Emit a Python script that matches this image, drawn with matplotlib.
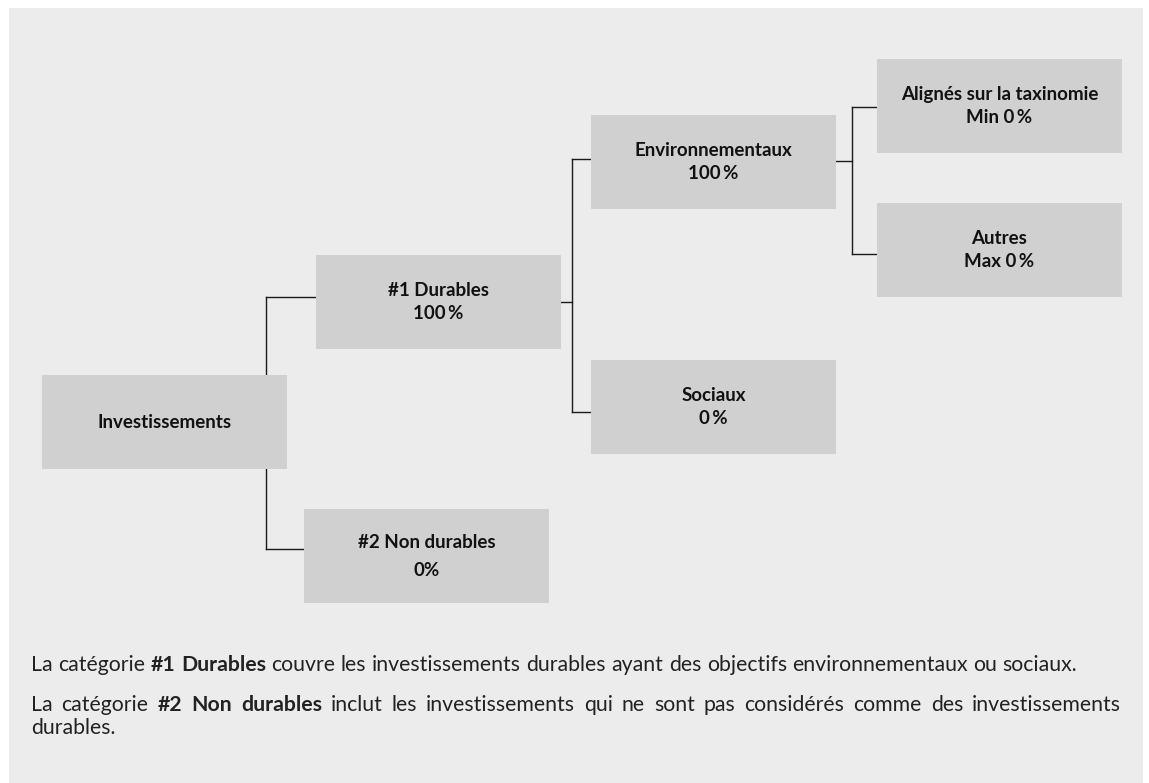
import matplotlib
matplotlib.use("Agg")
import matplotlib.pyplot as plt
from matplotlib.patches import Rectangle

# ---- data: the allocation tree ----
node_names = ["Investissements", "#1 Durables", "#2 Non durables",
              "Environnementaux", "Sociaux",
              "Alignés sur la taxinomie", "Autres"]
node_prefix = ["", "", "", "", "", "Min ", "Max "]
node_share = [None, 100, 0, 100, 0, 0, 0]
node_parent = [None, 0, 0, 1, 1, 3, 3]

footer_lines = [
    [("La catégorie ", "normal"), ("#1 Durables", "bold"),
     (" couvre les investissements durables ayant des objectifs environnementaux ou sociaux.", "normal")],
    [("La catégorie ", "normal"), ("#2 Non durables", "bold"),
     (" inclut les investissements qui ne sont pas considérés comme des investissements", "normal")],
    [("durables.", "normal")],
]

# ---- layout (pixel coordinates, origin top-left) ----
W, H = 1149, 783
BOX_W, BOX_H = 245, 94
box_xy = [(42, 375), (316, 255), (304, 509), (591, 115), (591, 360), (877, 59), (877, 203)]
link_y = [None, 297, 549, 159, 412, 107, 254]     # where each child's connector hits
trunk_x = {0: 266, 1: 572, 3: 852}                 # vertical trunk per parent
stub_y = {1: 302, 3: 161}                          # stub leaving parent box
footer_y = [665, 705, 728]
footer_justify = [False, True, False]
FOOT_X0, FOOT_X1 = 31, 1121

FONT = ["Lato", "DejaVu Sans"]
BOX_FS = 13.5
BOX_COLOR = "#d0d0d0"
PANEL = "#ececec"
LINE = "#1a1a1a"

fig = plt.figure(figsize=(W / 100, H / 100), dpi=100)
ax = fig.add_axes([0, 0, 1, 1])
ax.set_xlim(0, W)
ax.set_ylim(H, 0)
ax.axis("off")

ax.add_patch(Rectangle((9, 8), 1134, H + 20, facecolor=PANEL, edgecolor="none",
                       zorder=0, clip_on=False))

# connectors
for i, p in enumerate(node_parent):
    if p is None:
        continue
    tx = trunk_x[p]
    ax.plot([tx, box_xy[i][0]], [link_y[i], link_y[i]], color=LINE, lw=1, zorder=1)
for p, tx in trunk_x.items():
    kids = [i for i, q in enumerate(node_parent) if q == p]
    ys = [link_y[i] for i in kids]
    ax.plot([tx, tx], [min(ys), max(ys)], color=LINE, lw=1, zorder=1)
    if p in stub_y:
        ax.plot([box_xy[p][0] + BOX_W, tx], [stub_y[p], stub_y[p]], color=LINE, lw=1, zorder=1)

# boxes + labels
for i, name in enumerate(node_names):
    x, y = box_xy[i]
    ax.add_patch(Rectangle((x, y), BOX_W, BOX_H, facecolor=BOX_COLOR, edgecolor="none", zorder=2))
    cx, cy = x + BOX_W / 2, y + BOX_H / 2
    if node_share[i] is None:
        ax.text(cx, cy, name, ha="center", va="center", fontsize=BOX_FS,
                fontweight="bold", family=FONT, color="#111", zorder=3)
        continue
    if i == 2:
        val = f"{node_share[i]}%"
        gap = 14
    else:
        val = f"{node_prefix[i]}{node_share[i]}\u2009%"
        gap = 11.5
    ax.text(cx, cy - gap, name, ha="center", va="center", fontsize=BOX_FS,
            fontweight="bold", family=FONT, color="#111", zorder=3)
    ax.text(cx, cy + gap, val, ha="center", va="center", fontsize=BOX_FS,
            fontweight="bold", family=FONT, color="#111", zorder=3)

# footer: runs of regular / bold words, line 2 justified
fig.canvas.draw()
renderer = fig.canvas.get_renderer()


def width_of(s, weight, size):
    t = ax.text(0, 0, s, fontsize=size, fontweight=weight, family=FONT)
    w = t.get_window_extent(renderer).width
    t.remove()
    return w


plain = "".join(s for s, _ in footer_lines[0])
# fit size so the first line spans ~1045 px like the original
FOOT_SIZE = 10 * 1045 / width_of(plain, "normal", 10)
space = width_of("a a", "normal", FOOT_SIZE) - width_of("aa", "normal", FOOT_SIZE)

for line, y, just in zip(footer_lines, footer_y, footer_justify):
    words = []
    for s, wgt in line:
        for wd in s.split(" "):
            if wd:
                words.append((wd, wgt))
    widths = [width_of(wd, wgt, FOOT_SIZE) for wd, wgt in words]
    gap = space
    if just and len(words) > 1:
        gap = (FOOT_X1 - FOOT_X0 - sum(widths)) / (len(words) - 1)
    x = FOOT_X0
    for (wd, wgt), w in zip(words, widths):
        ax.text(x, y, wd, ha="left", va="center", fontsize=FOOT_SIZE,
                fontweight=wgt, family=FONT, color="#222", zorder=3)
        x += w + gap

fig.savefig("out.png", dpi=100, facecolor="white")
